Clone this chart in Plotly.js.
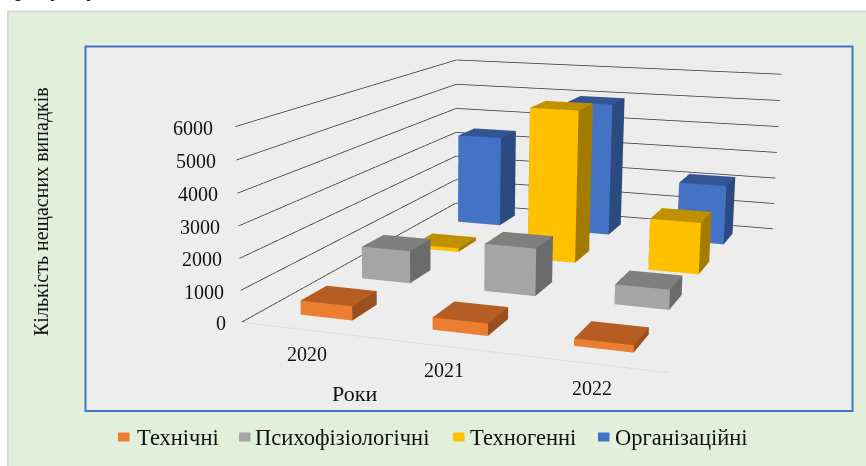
<!DOCTYPE html>
<html><head><meta charset="utf-8">
<script src="https://cdn.plot.ly/plotly-3.0.1.min.js"></script>
<style>html,body{margin:0;padding:0;width:866px;height:466px;overflow:hidden;background:#fff}
#c{position:absolute}</style>
</head><body><div id="c"></div>
<script>
const years=['2020','2021','2022'];
const seriesNames=['Технічні','Психофізіологічні','Техногенні','Організаційні'];
const technical=[450,380,220];
const psycho=[1100,1580,650];
const technogenic=[130,5400,1800];
const organisational=[3450,4980,2200];
const valueTicks=[0,1000,2000,3000,4000,5000,6000];
const front=['#ED7D31','#A5A5A5','#FFC000','#4472C4'];
const topc=['#B55D23','#7F7F7F','#BF9000','#335593'];
const side=['#98501F','#6B6B6B','#A37B00','#2A4A80'];
const H=1209,W=1666,L=(866-W)/2,T=(466-H)/2;
const c=document.getElementById('c');c.style.left=L+'px';c.style.top=T+'px';
const px=x=>(x-L)/W,py=y=>1-(y-T)/H;
const data=[];
[technical,psycho,technogenic,organisational].forEach((vals,s)=>{vals.forEach((v,i)=>{
 const x0=i+.3,x1=i+.7,y0=s+.3,y1=s+.7;
 data.push({type:'mesh3d',x:[x0,x1,x1,x0,x0,x1,x1,x0],y:[y0,y0,y1,y1,y0,y0,y1,y1],z:[0,0,0,0,v,v,v,v],
 i:[0,0,4,4,0,0,1,1,3,3,0,0],j:[1,2,5,6,1,5,2,6,2,6,3,7],k:[2,3,6,7,5,4,6,5,6,7,7,4],
 facecolor:[side[s],side[s],topc[s],topc[s],front[s],front[s],side[s],side[s],side[s],side[s],side[s],side[s]],
 flatshading:true,lighting:{ambient:1,diffuse:0,specular:0,roughness:1,fresnel:0},hoverinfo:'skip',showscale:false});
});});
valueTicks.forEach(v=>data.push({type:'scatter3d',mode:'lines',x:[0,0,3],y:[0,4,4],z:[v,v,v],line:{color:'#333333',width:1.5},hoverinfo:'skip',showlegend:false}));
data.push({type:'scatter3d',mode:'lines',x:[0,3],y:[0,0],z:[0,0],line:{color:'#D9D9D9',width:1.5},hoverinfo:'skip',showlegend:false});
const serif='Liberation Serif';
const sceneAnn=[];
valueTicks.forEach(v=>sceneAnn.push({x:0,y:0,z:v,text:String(v),showarrow:false,xanchor:'right',xshift:-13-7*v/6000,yshift:-1,font:{family:serif,size:20,color:'#111'}}));
years.forEach((t,i)=>sceneAnn.push({x:i+.5,y:0,z:0,text:t,showarrow:false,xshift:1,yshift:-24,font:{family:serif,size:20,color:'#111'}}));
const ann=[{x:px(41.5),y:py(211),xref:'paper',yref:'paper',xanchor:'center',yanchor:'middle',text:'Кількість нещасних випадків',textangle:-90,showarrow:false,font:{family:serif,size:20,color:'#111'}},
{x:px(354.5),y:py(393),xref:'paper',yref:'paper',xanchor:'center',yanchor:'middle',text:'Роки',showarrow:false,font:{family:serif,size:22,color:'#111'}},
{x:px(13),y:py(-12),xref:'paper',yref:'paper',xanchor:'left',yanchor:'middle',text:'рисунку',showarrow:false,font:{family:serif,size:24,color:'#111'}}];
const legX=[135,253,468,613],legS=[118,239,453,598];
const shapes=[{type:'rect',layer:'below',xref:'paper',yref:'paper',x0:px(8),x1:px(870),y0:py(11),y1:py(470),fillcolor:'#E2EFDA',line:{color:'#D9D9D9',width:2}},
{type:'rect',layer:'below',xref:'paper',yref:'paper',x0:px(85.5),x1:px(852.5),y0:py(46),y1:py(410.5),fillcolor:'#EDEDED',line:{color:'#4472C4',width:2}}];
seriesNames.forEach((n,i)=>{ann.push({x:px(legX[i]),y:py(437),xref:'paper',yref:'paper',text:n,showarrow:false,xanchor:'left',yanchor:'middle',font:{family:serif,size:22.5,color:'#111'}});
 shapes.push({type:'rect',layer:'below',xref:'paper',yref:'paper',x0:px(legS[i]),x1:px(legS[i]+11.5),y0:py(432),y1:py(441),fillcolor:front[i],line:{width:0}});});
const ax0={visible:false,showgrid:false,zeroline:false,showspikes:false};
Plotly.newPlot(c,data,{width:W,height:H,margin:{l:0,r:0,t:0,b:0},paper_bgcolor:'#fff',showlegend:false,shapes,annotations:ann,
 scene:{domain:{x:[0,1],y:[0,1]},bgcolor:'rgba(0,0,0,0)',aspectmode:'manual',aspectratio:{x:1.408,y:2,z:0.644},
 camera:{eye:{x:1.536,y:-5.025,z:1.047},center:{x:-0.85,y:1.092,z:-0.495},up:{x:0,y:0,z:1},projection:{type:'perspective'}},
 xaxis:{...ax0,range:[0,3]},yaxis:{...ax0,range:[0,4]},zaxis:{...ax0,range:[0,6000]},annotations:sceneAnn}},{displayModeBar:false});
</script></body></html>
